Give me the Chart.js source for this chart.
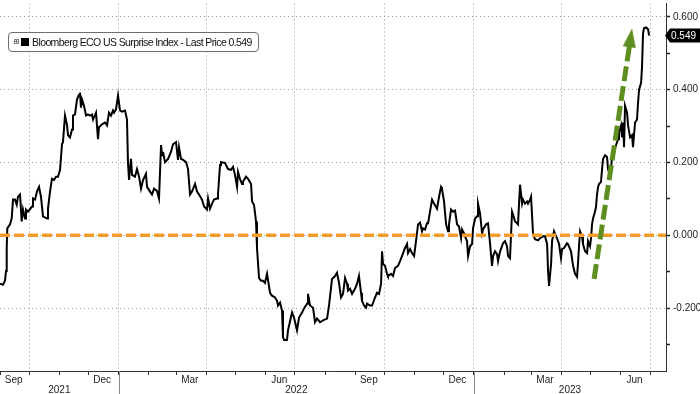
<!DOCTYPE html>
<html>
<head>
<meta charset="utf-8">
<script src="https://cdn.jsdelivr.net/npm/chart.js@4.4.0/dist/chart.umd.min.js"></script>
<style>
  html, body { margin: 0; padding: 0; background: #fff; }
  #wrap { position: relative; width: 700px; height: 394px; }
  #legend {
    position: absolute; left: 8px; top: 32px; width: 249px; height: 18px;
    border: 1px solid #6e6e6e; border-radius: 4px; background: #fff;
    font-family: "Liberation Sans", Arial, sans-serif; font-size: 10.5px;
    line-height: 18px; letter-spacing: -0.6px; color: #111; white-space: nowrap;
  }
  #legend .ico {
    position: absolute; left: 5px; top: 6px; width: 3px; height: 3px;
    border: 1px solid #888;
    background: linear-gradient(#777, #777) center / 3px 1px no-repeat,
                linear-gradient(#777, #777) center / 1px 3px no-repeat;
  }
  #legend .sw { position: absolute; left: 12px; top: 5px; width: 8px; height: 8px; background: #000; }
  #legend .txt { position: absolute; left: 23px; top: 0; }
</style>
</head>
<body>
<div id="wrap">
  <canvas id="grafico"></canvas>
  <div id="legend"><span class="ico"></span><span class="sw"></span><span class="txt" id="legendText"></span></div>
</div>
<script>
// Datos: [días desde 1-sep-2021, valor del índice]
const ecoSeries = [
  [0,-0.133],[3.1,-0.136],[5.1,-0.125],[6.2,-0.098],[6.9,-0.035],[7.5,0.019],[10.3,0.030],[12.0,0.046],[13.4,0.098],[15.4,0.098],
  [17.2,0.084],[18.5,0.106],[20.6,0.112],[22.3,0.038],[23.6,0.071],[25.7,0.046],[26.7,0.071],[28.8,0.065],[32.9,0.079],[33.9,0.101],
  [36.0,0.098],[38.0,0.120],[40.1,0.133],[42.1,0.106],[44.2,0.052],[48.3,0.046],[49.3,0.073],[51.4,0.120],[53.4,0.155],[55.5,0.152],
  [57.6,0.161],[59.6,0.161],[61.7,0.180],[63.7,0.250],[64.7,0.256],[66.8,0.329],[68.9,0.302],[69.9,0.275],[71.9,0.269],[74.0,0.291],
  [75.0,0.329],[77.1,0.332],[79.1,0.373],[81.2,0.386],[82.2,0.392],[83.2,0.351],[84.3,0.373],[86.3,0.356],[88.4,0.329],[90.4,0.332],
  [92.5,0.329],[94.5,0.332],[95.6,0.318],[98.7,0.337],[100.7,0.264],[101.7,0.297],[104.8,0.305],[107.9,0.310],[110.0,0.302],[112.0,0.337],
  [114.1,0.329],[116.1,0.343],[117.2,0.337],[119.2,0.346],[121.3,0.384],[123.3,0.343],[125.4,0.340],[128.5,0.343],[130.5,0.318],[131.5,0.201],
  [132.6,0.152],[134.6,0.210],[135.7,0.166],[138.7,0.161],[140.8,0.182],[142.9,0.161],[144.9,0.128],[147.0,0.152],[150.0,0.169],[151.1,0.133],
  [154.2,0.120],[156.2,0.112],[158.3,0.128],[161.3,0.122],[163.4,0.101],[165.5,0.248],[166.5,0.220],[167.5,0.229],[169.6,0.201],[172.7,0.210],
  [175.7,0.229],[177.8,0.250],[180.9,0.256],[182.9,0.207],[184.0,0.242],[186.0,0.210],[188.1,0.207],[191.2,0.201],[193.2,0.182],[195.3,0.112],
  [197.3,0.120],[200.4,0.141],[202.5,0.120],[204.5,0.112],[207.6,0.098],[209.7,0.079],[212.7,0.071],[213.8,0.101],[215.8,0.073],[217.9,0.087],
  [219.9,0.098],[223.0,0.101],[224.0,0.112],[226.1,0.193],[227.1,0.201],[231.2,0.199],[234.3,0.182],[237.4,0.180],[239.5,0.188],[241.5,0.166],
  [243.6,0.133],[244.6,0.174],[246.6,0.155],[248.7,0.141],[249.7,0.147],[252.8,0.161],[254.9,0.155],[258.0,0.141],[259.0,0.093],[261.0,0.084],
  [263.1,0.038],[264.1,-0.035],[266.2,-0.117],[268.2,-0.125],[270.3,-0.125],[272.3,-0.131],[274.4,-0.106],[275.4,-0.106],[277.5,-0.158],[279.5,-0.166],
  [282.6,-0.171],[284.7,-0.180],[285.7,-0.193],[287.8,-0.185],[289.8,-0.207],[290.8,-0.280],[291.9,-0.288],[294.9,-0.288],[296.0,-0.261],[300.1,-0.212],
  [302.1,-0.226],[305.2,-0.261],[307.3,-0.226],[310.4,-0.212],[312.4,-0.201],[315.5,-0.188],[316.5,-0.161],[318.6,-0.193],[321.7,-0.199],[323.7,-0.239],
  [325.8,-0.229],[328.9,-0.239],[331.9,-0.234],[336.1,-0.229],[338.1,-0.193],[341.2,-0.120],[344.3,-0.112],[346.3,-0.103],[348.4,-0.131],[350.4,-0.171],
  [352.5,-0.161],[354.6,-0.117],[356.6,-0.133],[357.6,-0.152],[359.7,-0.147],[361.8,-0.161],[364.8,-0.147],[366.9,-0.133],[368.9,-0.112],[371.0,-0.158],
  [372.0,-0.180],[374.1,-0.193],[376.1,-0.199],[377.2,-0.188],[380.2,-0.193],[382.3,-0.193],[385.4,-0.171],[387.4,-0.158],[389.5,-0.161],[391.6,-0.133],
  [392.6,-0.044],[393.6,-0.079],[395.7,-0.084],[397.7,-0.106],[398.7,-0.112],[401.8,-0.106],[403.9,-0.112],[405.9,-0.090],[409.0,-0.084],[411.1,-0.071],
  [413.1,-0.057],[416.2,-0.035],[418.3,-0.024],[419.3,-0.049],[421.4,-0.038],[423.4,-0.049],[425.5,-0.057],[427.5,-0.016],[429.6,0.030],[431.6,0.035],
  [433.7,0.011],[434.7,0.019],[436.8,0.016],[438.8,0.033],[439.9,0.033],[441.9,0.065],[444.0,0.098],[446.0,0.087],[449.1,0.073],[451.2,0.106],
  [453.2,0.133],[454.2,0.128],[456.3,0.093],[458.4,0.030],[460.4,0.011],[461.4,0.030],[463.5,0.071],[465.5,0.065],[467.6,0.068],[469.7,0.030],
  [471.7,0.024],[473.8,-0.008],[474.8,0.016],[476.9,0.005],[477.9,-0.003],[479.9,-0.016],[481.0,-0.057],[483.0,-0.030],[485.1,-0.024],[486.1,0.019],
  [488.2,0.046],[490.2,0.052],[491.2,0.087],[493.3,0.060],[495.4,0.005],[496.4,0.016],[499.5,0.030],[501.5,0.033],[503.6,-0.022],[505.6,-0.084],
  [506.7,-0.057],[508.7,-0.044],[510.8,-0.052],[511.8,-0.071],[513.9,-0.044],[515.9,-0.030],[516.9,-0.022],[519.0,-0.016],[521.0,-0.030],[522.1,-0.057],
  [524.1,-0.063],[526.2,0.065],[527.2,0.057],[529.3,0.038],[531.3,0.033],[532.3,0.030],[534.4,0.139],[536.5,0.087],[537.5,0.098],[539.5,0.087],
  [541.6,0.093],[542.6,0.087],[544.7,0.098],[545.7,0.106],[547.8,0.003],[549.8,-0.011],[552.9,-0.014],[555.0,-0.008],[558.0,-0.003],[560.1,-0.003],
  [562.2,-0.024],[563.2,-0.098],[564.2,-0.139],[566.3,-0.079],[567.3,-0.016],[569.3,0.011],[571.4,-0.003],[572.4,-0.008],[574.5,-0.024],[576.5,-0.063],
  [577.6,-0.038],[579.6,-0.035],[582.7,-0.022],[583.7,-0.024],[586.8,-0.044],[588.9,-0.084],[590.9,-0.106],[593.0,-0.114],[594.0,-0.076],[595.0,-0.030],
  [596.1,0.011],[598.1,-0.003],[599.1,-0.024],[601.2,-0.044],[603.3,-0.049],[604.3,-0.016],[606.3,-0.030],[607.4,-0.008],[608.4,0.030],[609.4,0.046],
  [611.5,0.065],[612.5,0.079],[613.5,0.112],[614.6,0.133],[615.6,0.141],[617.6,0.147],[618.7,0.182],[619.7,0.210],[621.8,0.220],[623.8,0.215],
  [624.8,0.182],[626.9,0.166],[627.9,0.182],[629.0,0.220],[631.0,0.229],[633.1,0.248],[635.1,0.264],[636.1,0.283],[638.2,0.302],[639.2,0.269],
  [640.3,0.310],[641.3,0.242],[642.3,0.356],[644.4,0.337],[645.4,0.302],[647.5,0.269],[649.5,0.275],[650.5,0.242],[652.6,0.310],[654.6,0.318],
  [655.7,0.365],[656.7,0.400],[658.8,0.419],[659.8,0.465],[660.8,0.555],[661.8,0.569],[663.9,0.571],[666.0,0.566],[667.0,0.549]
];
const seriesName = 'Bloomberg ECO US Surprise Index';

// Línea de referencia en cero y flecha verde (inicio y punta, en días / valor)
const zeroLevel = 0;
const arrowStart = [610.5, -0.120];
const arrowEnd = [648.1, 0.543];

// Ejes
const yTickValues = [-0.3, -0.2, -0.1, 0, 0.1, 0.2, 0.3, 0.4, 0.5, 0.6];
const yMin = -0.373;
const yMax = 0.637;
const xMax = 684.4;
const monthNames = ['Jan','Feb','Mar','Apr','May','Jun','Jul','Aug','Sep','Oct','Nov','Dec'];
const labelMonths = [2, 5, 8, 11];   // Mar, Jun, Sep, Dec
const gridMonths = [0, 3, 6, 9];     // inicio de trimestre
const years = [2021, 2022, 2023];

const startDate = Date.UTC(2021, 8, 1);
const FONT = '"Liberation Sans", Arial, sans-serif';
const orange = '#f39c2e';
const green = '#5e8e1f';

function dayOf(y, m, d) {
  return (Date.UTC(y, m, d) - startDate) / 864e5;
}

// Meses visibles en el eje
const months = [];
for (let i = 0; ; i++) {
  const y = 2021 + Math.floor((8 + i) / 12);
  const m = (8 + i) % 12;
  const start = dayOf(y, m, 1);
  if (start > xMax) break;
  months.push({ y, m, start, mid: dayOf(y, m, 15) });
}
const gridDays = months.filter(o => gridMonths.includes(o.m)).map(o => o.start);
const labelTicks = months.filter(o => labelMonths.includes(o.m));
const yearTicks = years.map(y => {
  const a = Math.max(0, dayOf(y, 0, 1));
  const b = Math.min(xMax, dayOf(y + 1, 0, 1));
  return { y, mid: (a + b) / 2 };
});
const yearBounds = years.slice(1).map(y => dayOf(y, 0, 1));

const lastValue = ecoSeries[ecoSeries.length - 1][1];
document.getElementById('legendText').textContent =
  seriesName + ' - Last Price ' + lastValue.toFixed(3);

// Punta de flecha
const arrowHead = document.createElement('canvas');
arrowHead.width = 13;
arrowHead.height = 19;
const ah = arrowHead.getContext('2d');
ah.fillStyle = green;
ah.beginPath();
ah.moveTo(6.5, 0);
ah.lineTo(13, 19);
ah.lineTo(0, 19);
ah.closePath();
ah.fill();

// Etiqueta negra con el último precio
const priceTag = {
  id: 'priceTag',
  afterDraw(chart) {
    const { ctx, chartArea, scales } = chart;
    const y = scales.y.getPixelForValue(lastValue);
    const x0 = chartArea.right;
    ctx.save();
    ctx.fillStyle = '#000';
    ctx.beginPath();
    ctx.moveTo(x0 - 1, y);
    ctx.lineTo(x0 + 4, y - 7);
    ctx.lineTo(chart.width, y - 7);
    ctx.lineTo(chart.width, y + 7);
    ctx.lineTo(x0 + 4, y + 7);
    ctx.closePath();
    ctx.fill();
    ctx.fillStyle = '#fff';
    ctx.font = '10px ' + FONT;
    ctx.textBaseline = 'middle';
    ctx.fillText(lastValue.toFixed(3), x0 + 5, y + 0.5);
    ctx.restore();
  }
};

// Separadores de año debajo del eje
const yearLines = {
  id: 'yearLines',
  afterDraw(chart) {
    const { ctx, chartArea, scales } = chart;
    ctx.save();
    ctx.strokeStyle = '#888';
    ctx.lineWidth = 1;
    yearBounds.forEach(d => {
      const x = Math.round(scales.x.getPixelForValue(d)) + 0.5;
      ctx.beginPath();
      ctx.moveTo(x, chartArea.bottom);
      ctx.lineTo(x, chart.height);
      ctx.stroke();
    });
    ctx.restore();
  }
};

const ctx = document.getElementById('grafico').getContext('2d');

new Chart(ctx, {
  type: 'line',
  data: {
    datasets: [
      {
        data: ecoSeries.map(p => ({ x: p[0], y: p[1] })),
        borderColor: '#000',
        borderWidth: 2,
        pointRadius: 0,
        tension: 0,
        order: 3
      },
      {
        data: [{ x: 0, y: zeroLevel }, { x: xMax, y: zeroLevel }],
        borderColor: orange,
        borderWidth: 3.5,
        borderDash: [10, 4],
        pointRadius: 0,
        order: 2
      },
      {
        data: [
          { x: arrowStart[0], y: arrowStart[1] },
          { x: arrowEnd[0], y: arrowEnd[1] }
        ],
        borderColor: green,
        borderWidth: 5,
        borderDash: [15, 5],
        borderCapStyle: 'butt',
        pointRadius: [0, 9],
        pointStyle: arrowHead,
        pointRotation: 8.5,
        order: 1
      }
    ]
  },
  options: {
    responsive: true,
    maintainAspectRatio: false,
    animation: false,
    layout: { padding: 0, autoPadding: false },
    plugins: {
      legend: { display: false },
      tooltip: { enabled: false }
    },
    scales: {
      x: {
        type: 'linear',
        position: 'bottom',
        weight: 0,
        min: 0,
        max: xMax,
        afterBuildTicks: s => { s.ticks = months.map(o => ({ value: o.start })); },
        afterFit: s => { s.height = 4; },
        ticks: { display: false, autoSkip: false },
        grid: {
          color: c => (c.tick && gridDays.includes(c.tick.value)) ? '#9a9a9a' : 'rgba(0,0,0,0)',
          lineWidth: 1,
          tickColor: '#333',
          tickLength: 4,
          drawTicks: true
        },
        border: { display: true, color: '#333', width: 1, dash: [1, 3] }
      },
      xm: {
        type: 'linear',
        position: 'bottom',
        weight: 1,
        min: 0,
        max: xMax,
        afterBuildTicks: s => { s.ticks = labelTicks.map(o => ({ value: o.mid })); },
        afterFit: s => { s.height = 10; },
        ticks: {
          autoSkip: false,
          maxRotation: 0,
          padding: 0,
          color: '#222',
          font: { family: FONT, size: 10, lineHeight: 1 },
          callback: (v, i) => monthNames[labelTicks[i].m]
        },
        grid: { display: false, drawTicks: false },
        border: { display: false }
      },
      xy: {
        type: 'linear',
        position: 'bottom',
        weight: 2,
        min: 0,
        max: xMax,
        afterBuildTicks: s => { s.ticks = yearTicks.map(o => ({ value: o.mid })); },
        afterFit: s => { s.height = 9; },
        ticks: {
          autoSkip: false,
          maxRotation: 0,
          padding: 0,
          color: '#222',
          font: { family: FONT, size: 10, lineHeight: 1 },
          callback: (v, i) => String(yearTicks[i].y)
        },
        grid: { display: false, drawTicks: false },
        border: { display: false }
      },
      y: {
        type: 'linear',
        position: 'right',
        min: yMin,
        max: yMax,
        afterBuildTicks: s => { s.ticks = yTickValues.map(v => ({ value: v })); },
        afterFit: s => { s.width = 34; },
        ticks: {
          autoSkip: false,
          padding: 3,
          color: '#222',
          font: { family: FONT, size: 10, lineHeight: 0.1 },
          callback: v => (Math.round(v * 10) % 2 === 0) ? v.toFixed(3) : ''
        },
        grid: {
          color: c => (c.tick && Math.round(c.tick.value * 10) % 2 === 0) ? '#9a9a9a' : 'rgba(0,0,0,0)',
          lineWidth: 1,
          tickColor: '#222',
          tickLength: 4,
          tickWidth: 1.5
        },
        border: { display: true, color: '#333', width: 1, dash: [1, 3] }
      }
    }
  },
  plugins: [priceTag, yearLines]
});
</script>
</body>
</html>
